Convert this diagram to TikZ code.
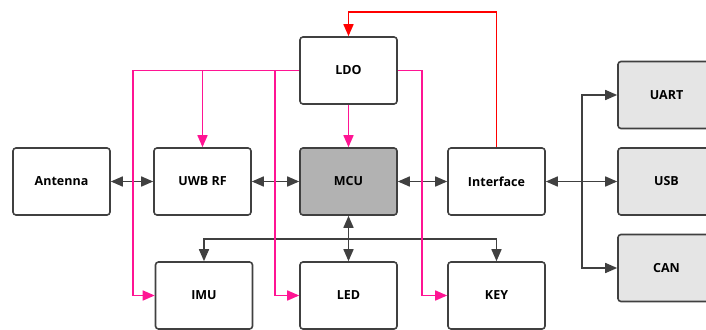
\documentclass[tikz,border=0pt]{standalone}
\usepackage{fontspec}
\setsansfont{Open Sans}
\usetikzlibrary{arrows.meta}
\definecolor{linegray}{HTML}{404040}
\definecolor{powerpink}{HTML}{FF1493}
\definecolor{feedred}{HTML}{FF0000}

\begin{document}
\begin{tikzpicture}[
  x=1pt, y=-1pt,
  >={Triangle[length=12pt, width=10pt]},
  box/.style={draw=linegray, line width=1.6pt, rounded corners=3pt, minimum width=97pt, minimum height=67pt, fill=white, font=\sffamily\bfseries\fontsize{12.5}{14}\selectfont},
  core/.style={box, fill=black!30},
  port/.style={box, fill=black!10},
  bus/.style={draw=linegray, line width=1.6pt},
  power/.style={draw=powerpink, line width=1.6pt},
  feed/.style={draw=feedred, line width=1.6pt},
]
  \clip (0,0) rectangle (706,329);

  \node[box]  (ant)  at (61.5,181.5)  {Antenna};
  \node[box]  (rf)   at (202.5,181.5) {UWB RF};
  \node[core] (mcu)  at (348.5,181.5) {MCU};
  \node[box]  (intf) at (496.5,181.5) {Interface};
  \node[box]  (ldo)  at (348.5,70.5)  {LDO};

  \node[box] (imu) at (204,295.5)   {IMU};
  \node[box] (led) at (348.5,295.5) {LED};
  \node[box] (key) at (496.5,295.5) {KEY};

  \node[port] (uart) at (666.5,95)    {UART};
  \node[port] (usb)  at (666.5,181.5) {USB};
  \node[port] (can)  at (666.5,268)   {CAN};

  % signal chain
  \draw[bus, <->] (ant) -- (rf);
  \draw[bus, <->] (rf) -- (mcu);
  \draw[bus, <->] (mcu) -- (intf);
  \draw[bus, <->] (intf) -- (usb);
  \coordinate (split) at (582,181.5);
  \draw[bus, ->] (split) |- (uart);
  \draw[bus, ->] (split) |- (can);

  % peripherals hang off the mcu
  \draw[bus, <->] (mcu) -- (led);
  \coordinate (tap) at (348.5,239);
  \draw[bus, ->] (tap) -| (imu);
  \draw[bus, ->] (tap) -| (key);

  % supply from the ldo
  \coordinate (pl) at (133,70.5);
  \coordinate (pm) at (275,70.5);
  \coordinate (pr) at (422,70.5);
  \draw[power, ->] (ldo) -- (mcu);
  \draw[power, ->] (ldo.west) -| (rf);
  \draw[power, ->] (ldo.west) -- (pl) |- (imu);
  \draw[power, ->] (pm) |- (led);
  \draw[power, ->] (ldo.east) -- (pr) |- (key);

  \draw[feed, ->] (intf.north) -- (intf.north |- 0,12) -| (ldo.north);
\end{tikzpicture}
\end{document}
